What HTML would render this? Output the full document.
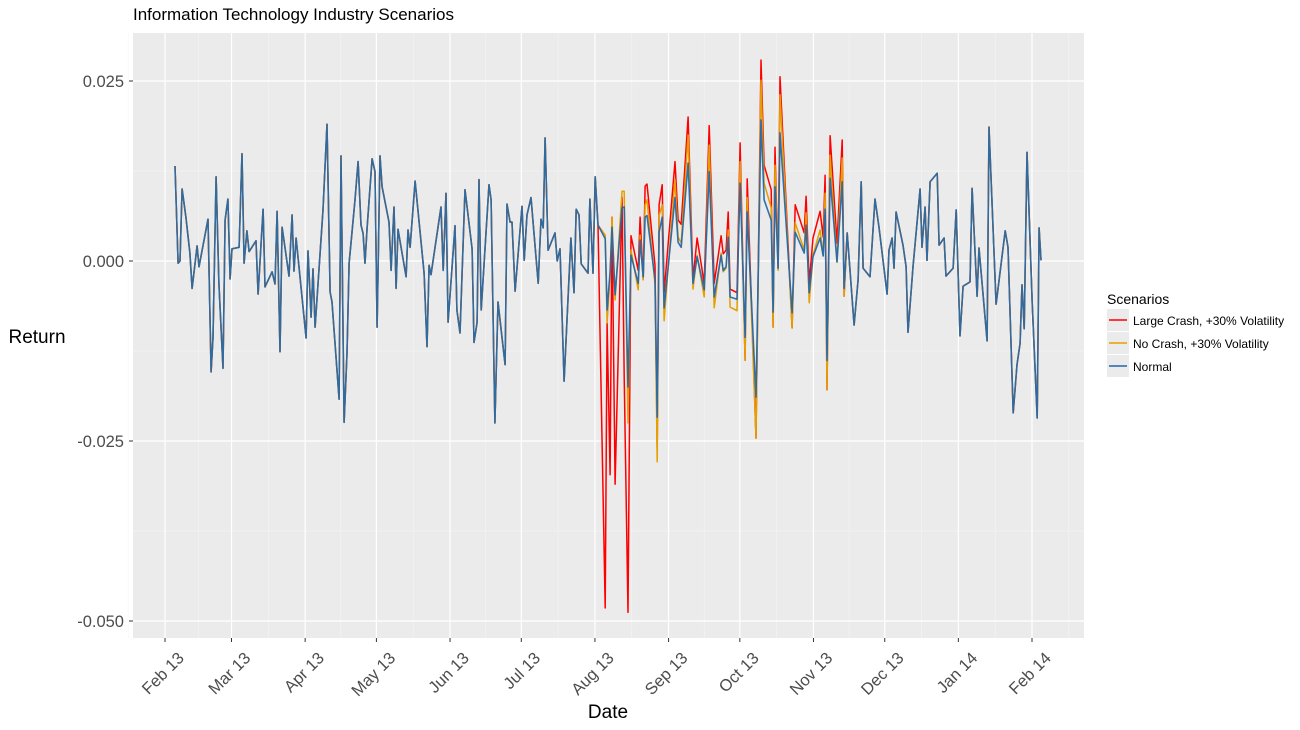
<!DOCTYPE html>
<html><head><meta charset="utf-8"><title>Information Technology Industry Scenarios</title>
<style>
body{margin:0;background:#fff;font-family:"Liberation Sans",sans-serif;}
svg text{font-family:"Liberation Sans",sans-serif;}
</style></head>
<body>
<svg id="chart" width="1300" height="725" xmlns="http://www.w3.org/2000/svg">
<rect x="0" y="0" width="1300" height="725" fill="#fff"/>
<text x="133" y="20" font-size="17" fill="#000">Information Technology Industry Scenarios</text>
<rect x="133" y="33" width="951" height="605" fill="#ebebeb"/>
<g id="grid"></g>
<g id="series"></g>
<g id="axes"></g>
<text x="37" y="343" font-size="19" text-anchor="middle" fill="#000">Return</text>
<text x="608" y="718" font-size="19" text-anchor="middle" fill="#000">Date</text>
<g>
<text x="1107" y="304" font-size="14" fill="#000">Scenarios</text>
<g>
<rect x="1107" y="309" width="22" height="22" fill="#ebebeb"/>
<line x1="1109" y1="320" x2="1127" y2="320" stroke="#ff0000" stroke-width="1.5"/>
<text x="1133" y="325" font-size="12" fill="#000">Large Crash, +30% Volatility</text></g>
<g>
<rect x="1107" y="332" width="22" height="22" fill="#ebebeb"/>
<line x1="1109" y1="343" x2="1127" y2="343" stroke="#e69f00" stroke-width="1.5"/>
<text x="1133" y="348" font-size="12" fill="#000">No Crash, +30% Volatility</text></g>
<g>
<rect x="1107" y="355" width="22" height="22" fill="#ebebeb"/>
<line x1="1109" y1="366" x2="1127" y2="366" stroke="#2166ac" stroke-width="1.5"/>
<text x="1133" y="371" font-size="12" fill="#000">Normal</text></g>
</g>
</svg>
<script>
// days since 2013-02-01
const dates = [4.2,5.5,6.3,7.2,8.8,10.5,11.4,13.5,14.3,18.1,19.4,20.2,21.5,22.7,24.4,25.3,26.5,27.4,28.2,31.2,32.4,33.3,34.5,35.4,38.3,39.2,41.3,42.1,45.1,46.3,47.2,48.4,49.3,52.2,53.5,54.3,55.2,59.4,60.2,61.5,62.3,63.2,66.5,68.2,69.5,70.3,73.3,74.1,75.4,76.6,77.5,78.3,80,81.3,82.5,83.4,84.2,85.1,87.2,88.4,89.3,90.5,91.4,94.3,95.2,96.4,97.3,98.1,101.5,102.3,103.2,105.3,109.1,110.3,111.2,112,116.2,117.1,118.3,119.2,122.1,122.9,124.2,126.3,129.3,130.1,131.4,132.2,133.1,136.4,137.3,138.9,140.2,143.2,144,145.3,146.1,147.4,150.3,151.2,152.4,154.1,157.1,158.3,159.2,160,161.3,164.2,165.1,166.3,168,170.9,172.2,173.1,174.3,175.2,178.1,178.9,180.2,181.1,182.3,
185.3,186.1,187.4,188.2,189.5,192.4,193.3,194.9,196.2,199.2,200,201.3,202.1,202.9,206.3,207.2,208,209.3,210.1,214.7,216,217.3,220.2,222.3,224,227,229.1,231.2,234.1,235,236.2,237.1,237.9,240.8,242.1,244.2,245.1,248.8,250.9,252.2,255.2,256,256.8,258.1,258.9,264,265.3,269.1,269.9,271.2,272.8,275.8,277.1,277.9,278.7,280,282.9,285.1,285.9,
287.2,290.1,291.8,293.1,293.9,296.8,298.9,300.6,304,304.8,306.1,306.9,307.8,310.7,312,312.8,314.9,317.9,318.7,320,320.8,322.1,325.1,325.9,328,328.8,331.8,333.1,334.7,336,338.9,339.8,341.9,342.7,346.1,346.9,349.9,353.7,354.9,357.1,358.7,360,360.8,361.7,362.9,365.1,367.2,368,368.8];
const normal = [0.0132,-0.0003,0,0.0100,0.0061,0.0011,-0.0038,0.0021,-0.0008,0.0058,-0.0154,-0.0106,0.0117,-0.0031,-0.0149,0.0057,0.0086,-0.0025,0.0017,0.0019,0.0149,-0.0003,0.0042,0.0013,0.0028,-0.0046,0.0072,-0.0036,-0.0015,-0.0032,0.0069,-0.0126,0.0047,-0.0021,0.0064,-0.0014,0.0032,-0.0107,0.0014,-0.0078,-0.0011,-0.0092,0.0071,0.0190,-0.0043,-0.0057,-0.0192,0.0146,-0.0224,-0.0128,-0.0003,0.0025,0.0085,0.0138,0.0050,0.0038,-0.0003,0.0046,0.0142,0.0124,-0.0092,0.0146,0.0103,0.0054,-0.0013,0.0075,-0.0038,0.0044,-0.0022,0.0043,0.0019,0.0111,-0.0017,-0.0119,-0.0006,-0.0019,0.0075,-0.0013,0.0094,-0.0085,0.0049,-0.0068,-0.0100,0.0099,0.0017,-0.0113,-0.0085,0.0113,-0.0068,0.0106,0.0085,-0.0225,-0.0057,-0.0144,0.0079,0.0054,0.0054,-0.0042,0.0076,0.0001,0.0064,0.0088,-0.0031,0.0058,0.0046,0.0171,0.0015,0.0039,0,0.0017,-0.0167,0.0032,-0.0044,0.0072,0.0064,-0.0004,-0.0017,0.0086,-0.0017,0.0117,0.0050,
0.0031,-0.0068,-0.0015,0.0047,-0.0047,0.0074,0.0075,-0.0175,0.0008,-0.0031,0.0029,-0.0022,0.0061,0.0063,-0.0026,-0.0217,0.0040,0.0061,-0.0065,0.0088,0.0026,0.0019,0.0136,-0.0031,0.0006,-0.0040,0.0124,-0.0050,0.0008,-0.0013,-0.0008,0.0033,-0.0050,-0.0053,0.0108,-0.0106,0.0068,-0.0189,0.0196,0.0085,0.0057,-0.0071,0.0103,-0.0010,0.0178,-0.0072,0.0040,0.0011,0.0050,-0.0044,0.0006,0.0032,0.0007,0.0072,-0.0138,0.0115,-0.0001,0.0110,-0.0038,
0.0039,-0.0089,-0.0026,0.0110,-0.0010,-0.0022,0.0086,0.0047,-0.0046,0.0015,0.0032,-0.0010,0.0068,0.0022,-0.0008,-0.0099,-0.0008,0.0100,0.0019,0.0075,0.0001,0.0110,0.0122,0.0022,0.0032,-0.0021,-0.0010,0.0071,-0.0104,-0.0035,-0.0029,0.0101,-0.0049,0.0018,-0.0111,0.0186,-0.0060,0.0042,0.0019,-0.0211,-0.0144,-0.0114,-0.0033,-0.0094,0.0151,-0.0058,-0.0218,0.0046,0.0001];
// scenario window (dates where scenarios differ from Normal)
const scenarioDates = [182.3,185.3,186.1,187.4,188.2,189.5,192.4,193.3,194.9,196.2,199.2,200,201.3,202.1,202.9,206.3,207.2,208,209.3,210.1,214.7,216,217.3,220.2,222.3,224,227,229.1,231.2,234.1,235,236.2,237.1,237.9,240.8,242.1,244.2,245.1,248.8,250.9,252.2,255.2,256,256.8,258.1,258.9,264,265.3,269.1,269.9,271.2,272.8,275.8,277.1,277.9,278.7,280,282.9,285.1,285.9,287.2];
const noCrash = [0.0050,0.0036,-0.0086,-0.0020,0.0061,-0.0054,0.0097,0.0097,-0.0225,0.0015,-0.0040,0.0036,-0.0026,0.0078,0.0085,-0.0033,-0.0279,0.0063,0.0078,-0.0083,0.0113,0.0033,0.0025,0.0175,-0.0039,0.0008,-0.0050,0.0161,-0.0065,0.0011,-0.0015,-0.0010,0.0043,-0.0064,-0.0069,0.0138,-0.0138,0.0088,-0.0246,0.0251,0.0108,0.0074,-0.0092,0.0133,-0.0013,0.0231,-0.0093,0.0053,0.0015,0.0067,-0.0058,0.0008,0.0043,0.0008,0.0094,-0.0179,0.0147,-0.0002,0.0143,-0.0049,0.0039];
const largeCrash = [0.0050,-0.0482,-0.0086,-0.0297,0.0061,-0.0310,0.0089,-0.0161,-0.0488,0.0035,-0.0013,0.0061,-0.0026,0.0104,0.0107,-0.0006,-0.0260,0.0078,0.0106,-0.0044,0.0138,0.0057,0.0051,0.0200,-0.0026,0.0032,-0.0031,0.0188,-0.0031,0.0035,0.0010,0.0015,0.0068,-0.0039,-0.0044,0.0164,-0.0138,0.0114,-0.0246,0.0279,0.0133,0.0099,-0.0092,0.0158,-0.0010,0.0256,-0.0093,0.0078,0.0039,0.0090,-0.0031,0.0032,0.0069,0.0033,0.0119,-0.0179,0.0174,0.0025,0.0168,-0.0049,0.0039];
const yTicks = [0.025,0,-0.025,-0.05];
const yTickLabels = ["0.025","0.000","-0.025","-0.050"];
const yMinor = [0.0125,-0.0125,-0.0375];
const monthDays = [0,28,59,89,120,150,181,212,242,273,303,334,365];
const monthLabels = ["Feb 13","Mar 13","Apr 13","May 13","Jun 13","Jul 13","Aug 13","Sep 13","Oct 13","Nov 13","Dec 13","Jan 14","Feb 14"];

const NS="http://www.w3.org/2000/svg";
const X0=133,X1=1084,Y0=33,Y1=638;
function xs(d){return 165+d*(867/365);}
function ys(v){return 261-v*7200;}
function mk(tag,attrs,parent){const e=document.createElementNS(NS,tag);for(const k in attrs)e.setAttribute(k,attrs[k]);parent.appendChild(e);return e;}
const grid=document.getElementById('grid'),axes=document.getElementById('axes'),series=document.getElementById('series');
yMinor.forEach(v=>{const l=mk('line',{x1:X0,x2:X1,y1:ys(v),y2:ys(v),stroke:'#f5f5f5','stroke-width':0.6},grid);

});
for(let i=0;i<monthDays.length;i++){
  const a=monthDays[i];const prev=i>0?monthDays[i-1]:a-31;
  const m=(prev+a)/2;
  const l=mk('line',{x1:xs(m),x2:xs(m),y1:Y0,y2:Y1,stroke:'#f5f5f5','stroke-width':0.6},grid);
  
  
}
{const m=(monthDays[12]+monthDays[12]+31)/2;const l=mk('line',{x1:xs(m),x2:xs(m),y1:Y0,y2:Y1,stroke:'#f5f5f5','stroke-width':0.6},grid);

}
yTicks.forEach((v,i)=>{const y=ys(v);
  const g=mk('line',{x1:X0,x2:X1,y1:y,y2:y,stroke:'#fff','stroke-width':1.2},grid);
  
  
  const t=mk('line',{x1:X0-4,x2:X0,y1:y,y2:y,stroke:'#333','stroke-width':1},axes);
  
  
  const tx=mk('text',{x:X0-9,y:y+6,'font-size':16.5,'text-anchor':'end',fill:'#4d4d4d'},axes);
  tx.textContent=yTickLabels[i];
  
  });
monthDays.forEach((d,i)=>{const x=xs(d);
  const g=mk('line',{x1:x,x2:x,y1:Y0,y2:Y1,stroke:'#fff','stroke-width':1.2},grid);
  
  
  const t=mk('line',{x1:x,x2:x,y1:Y1,y2:Y1+4,stroke:'#333','stroke-width':1},axes);
  
  
  const ax=x+20, ay=Y1+21;
  const tx=mk('text',{x:ax,y:ay,'font-size':16.5,'text-anchor':'end',fill:'#4d4d4d',transform:`rotate(-45 ${ax} ${ay})`},axes);
  tx.textContent=monthLabels[i];
  
  });
function buildSeries(vals){
  const s0=scenarioDates[0],s1=scenarioDates[scenarioDates.length-1];
  const pts=[];
  dates.forEach((d,i)=>{if(d<s0)pts.push([d,normal[i]]);});
  scenarioDates.forEach((d,i)=>pts.push([d,vals[i]]));
  dates.forEach((d,i)=>{if(d>s1)pts.push([d,normal[i]]);});
  return pts.map(p=>xs(p[0]).toFixed(1)+','+ys(p[1]).toFixed(1)).join(' ');
}
const red=mk('polyline',{points:buildSeries(largeCrash),fill:'none',stroke:'#ff0000','stroke-width':1.5,'stroke-linejoin':'round'},series);


const orange=mk('polyline',{points:buildSeries(noCrash),fill:'none',stroke:'#e69f00','stroke-width':1.5,'stroke-linejoin':'round'},series);


const blue=mk('polyline',{points:dates.map((d,i)=>xs(d).toFixed(1)+','+ys(normal[i]).toFixed(1)).join(' '),fill:'none',stroke:'#2166ac','stroke-width':1.6,'stroke-linejoin':'round','stroke-opacity':0.92},series);


</script>
</body></html>
